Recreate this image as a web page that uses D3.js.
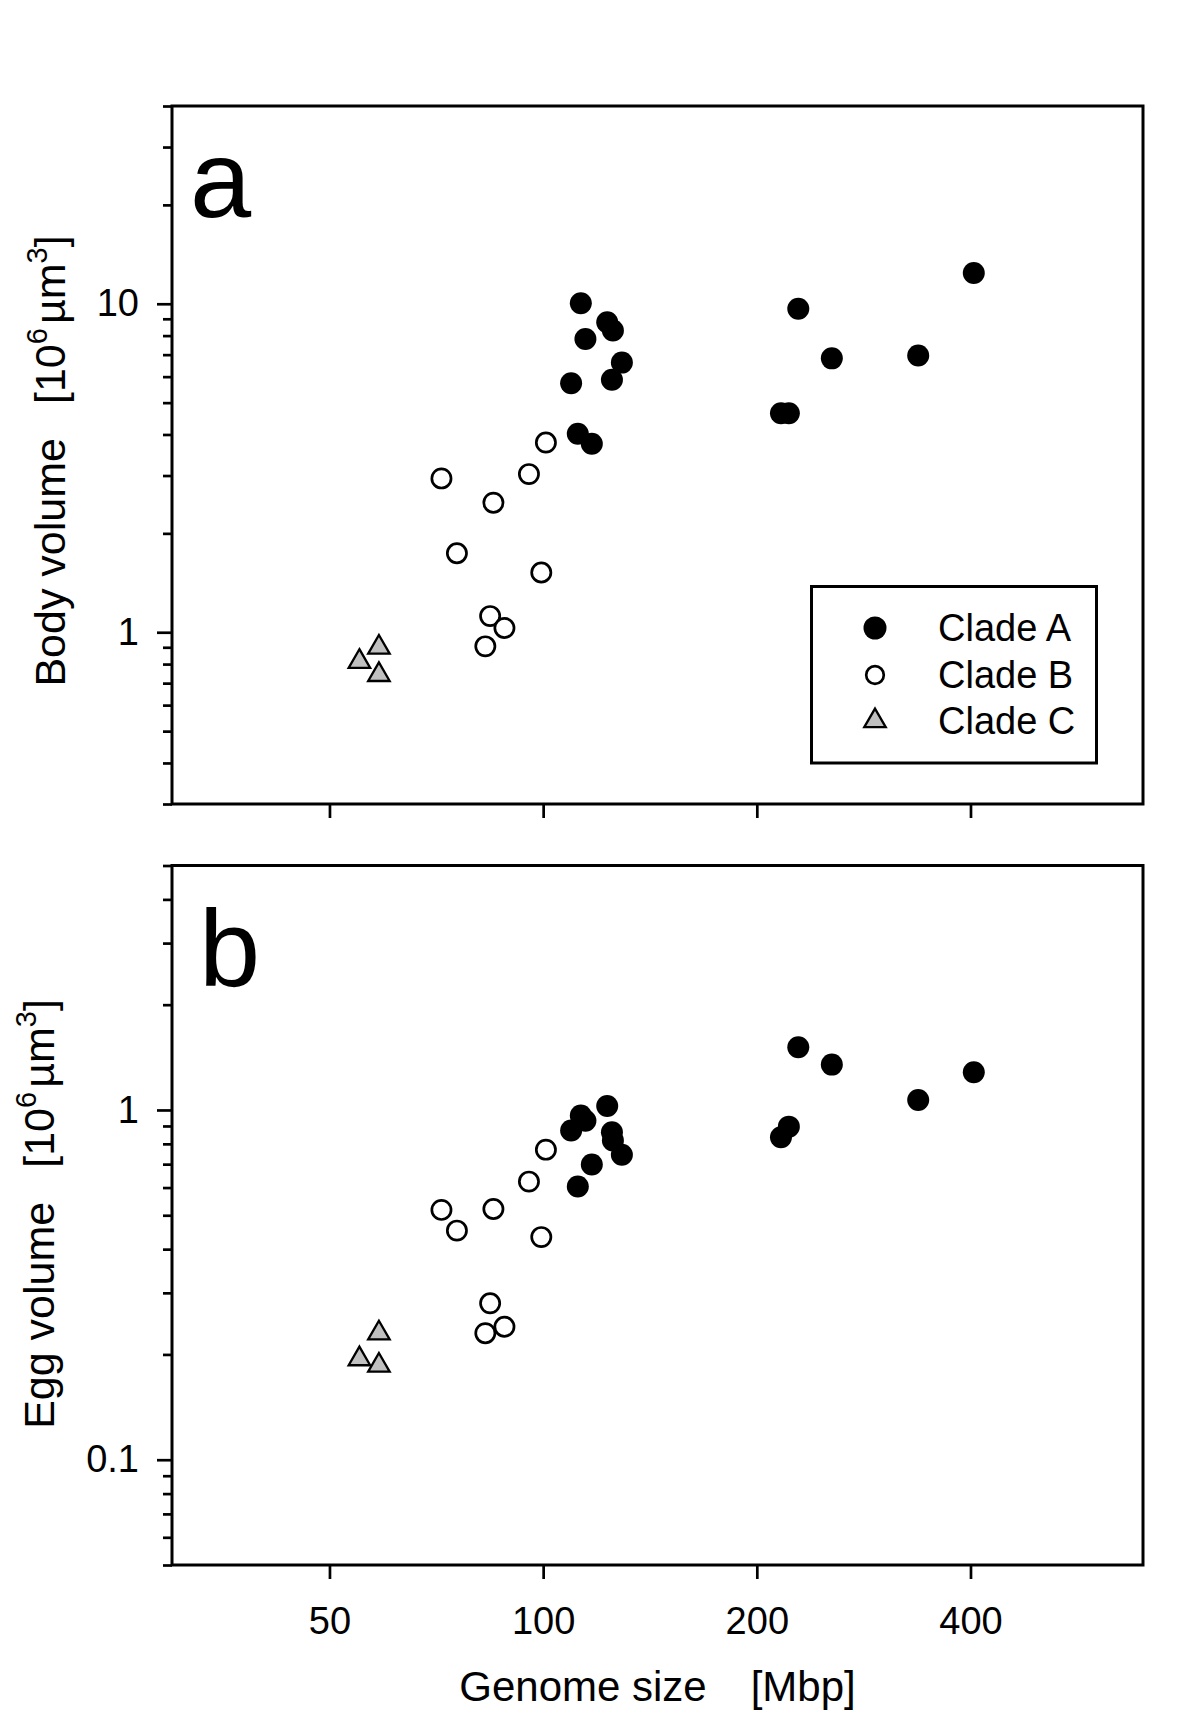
<!DOCTYPE html>
<html>
<head>
<meta charset="utf-8">
<script src="https://cdn.jsdelivr.net/npm/d3@7"></script>
<style>
  body { margin: 0; background: #fff; }
  svg text { font-family: "Liberation Sans", Arial, sans-serif; fill: #000; }
</style>
</head>
<body>
<div id="chart"></div>
<script>
// genome size [Mbp] per species, same order is used in both panels
const genomeA = [109.5, 111.9, 113.0, 114.7, 117.1, 123.1, 125.0, 125.4, 129.1, 216.3, 221.9, 228.8, 255.1, 337.6, 404.3];
const genomeB = [71.9, 75.6, 82.9, 84.2, 85.1, 88.2, 95.5, 99.4, 100.9];
const genomeC = [55.1, 58.7, 58.7];

// body volume [10^6 um^3]
const bodyA = [5.73, 4.02, 10.03, 7.81, 3.75, 8.79, 5.87, 8.29, 6.62, 4.64, 4.64, 9.66, 6.82, 6.96, 12.41];
const bodyB = [2.94, 1.74, 0.906, 1.12, 2.48, 1.03, 3.03, 1.52, 3.78];
const bodyC = [0.814, 0.899, 0.742];

// egg volume [10^6 um^3]
const eggA = [0.873, 0.604, 0.964, 0.932, 0.698, 1.027, 0.863, 0.818, 0.745, 0.836, 0.896, 1.511, 1.348, 1.068, 1.282];
const eggB = [0.518, 0.452, 0.230, 0.280, 0.521, 0.240, 0.624, 0.433, 0.770];
const eggC = [0.194, 0.230, 0.186];

const cladeNames = ["Clade A", "Clade B", "Clade C"];
const xTicks = [50, 100, 200, 400];
const xTickLabels = ["50", "100", "200", "400"];
const bodyTicks = [1, 10];
const bodyTickLabels = ["1", "10"];
const eggTicks = [0.1, 1];
const eggTickLabels = ["0.1", "1"];

const width = 1200, height = 1720;
const left = 172, right = 1143;
const lineW = 3;

const svg = d3.select("#chart").append("svg")
  .attr("width", width)
  .attr("height", height);

const x = d3.scaleLog().domain([30, 700]).range([left, right]);

const triangle = d3.symbol().type(d3.symbolTriangle).size(200);

function drawMarkers(g, clade, xs, ys, y) {
  const pts = xs.map((v, i) => ({ gx: v, vy: ys[i] }));
  if (clade === 2) {
    g.selectAll(null).data(pts).enter().append("path")
      .attr("d", triangle)
      .attr("transform", d => `translate(${x(d.gx)},${y(d.vy)})`)
      .attr("fill", "#c0c0c0")
      .attr("stroke", "#000")
      .attr("stroke-width", 2.3);
  } else {
    g.selectAll(null).data(pts).enter().append("circle")
      .attr("cx", d => x(d.gx))
      .attr("cy", d => y(d.vy))
      .attr("r", clade === 0 ? 11 : 9.6)
      .attr("fill", clade === 0 ? "#000" : "#fff")
      .attr("stroke", "#000")
      .attr("stroke-width", clade === 0 ? 0 : 2.7);
  }
}

function drawPanel(p) {
  const y = d3.scaleLog().domain(p.domain).range([p.bottom, p.top]);
  const g = svg.append("g");

  // minor y ticks (no labels)
  const minor = y.ticks().filter(t => !p.ticks.some(m => Math.abs(m - t) < 1e-9));
  g.append("g")
    .attr("transform", `translate(${left},0)`)
    .call(d3.axisLeft(y).tickValues(minor).tickSize(9).tickFormat(""))
    .call(a => a.select(".domain").remove())
    .selectAll("line").attr("stroke-width", 2.7);

  // major y ticks
  g.append("g")
    .attr("transform", `translate(${left},0)`)
    .call(d3.axisLeft(y).tickValues(p.ticks).tickSize(15).tickPadding(18)
      .tickFormat((d, i) => p.tickLabels[i]))
    .call(a => a.select(".domain").remove())
    .call(a => a.selectAll("line").attr("stroke-width", 2.7))
    .selectAll("text")
    .attr("font-size", 38)
    .attr("font-family", "Liberation Sans, Arial, sans-serif");

  // x ticks
  g.append("g")
    .attr("transform", `translate(0,${p.bottom})`)
    .call(d3.axisBottom(x).tickValues(xTicks).tickSize(14).tickPadding(28)
      .tickFormat((d, i) => p.xLabels ? xTickLabels[i] : ""))
    .call(a => a.select(".domain").remove())
    .call(a => a.selectAll("line").attr("stroke-width", 2.7))
    .selectAll("text")
    .attr("font-size", 38)
    .attr("font-family", "Liberation Sans, Arial, sans-serif");

  // frame
  g.append("rect")
    .attr("x", left).attr("y", p.top)
    .attr("width", right - left).attr("height", p.bottom - p.top)
    .attr("fill", "none")
    .attr("stroke", "#000")
    .attr("stroke-width", lineW);

  drawMarkers(g, 1, genomeB, p.values[1], y);
  drawMarkers(g, 0, genomeA, p.values[0], y);
  drawMarkers(g, 2, genomeC, p.values[2], y);

  // panel letter
  g.append("text")
    .attr("x", p.letterPos[0]).attr("y", p.letterPos[1])
    .attr("font-size", 110)
    .text(p.letter);

  // y title
  const t = g.append("text")
    .attr("transform", `translate(${p.titlePos[0]},${p.titlePos[1]}) rotate(-90)`)
    .attr("text-anchor", "middle")
    .attr("font-size", 43);
  t.append("tspan").text(p.title);
  t.append("tspan").attr("dx", 34).text("[10");
  t.append("tspan").attr("font-size", 29).attr("dy", -18).text("6");
  t.append("tspan").attr("dx", 4).attr("dy", 18).text("µm");
  t.append("tspan").attr("font-size", 29).attr("dy", -18).text("3");
  t.append("tspan").attr("dy", 18).text("]");

  return y;
}

drawPanel({
  domain: [0.3, 40], top: 106, bottom: 804,
  ticks: bodyTicks, tickLabels: bodyTickLabels, xLabels: false,
  values: [bodyA, bodyB, bodyC],
  letter: "a", letterPos: [190, 217],
  title: "Body volume", titlePos: [65, 461]
});

drawPanel({
  domain: [0.05, 5], top: 865.5, bottom: 1565,
  ticks: eggTicks, tickLabels: eggTickLabels, xLabels: true,
  values: [eggA, eggB, eggC],
  letter: "b", letterPos: [199, 986],
  title: "Egg volume", titlePos: [54, 1214]
});

// x title
const xt = svg.append("text")
  .attr("x", (left + right) / 2)
  .attr("y", 1701)
  .attr("text-anchor", "middle")
  .attr("font-size", 42);
xt.append("tspan").text("Genome size");
xt.append("tspan").attr("dx", 44).text("[Mbp]");

// legend
const legend = svg.append("g");
legend.append("rect")
  .attr("x", 811.5).attr("y", 586.5)
  .attr("width", 285).attr("height", 176.5)
  .attr("fill", "#fff")
  .attr("stroke", "#000")
  .attr("stroke-width", lineW);

const rowY = [628, 675, 721];
legend.append("circle").attr("cx", 875).attr("cy", rowY[0]).attr("r", 11.5).attr("fill", "#000");
legend.append("circle").attr("cx", 875).attr("cy", rowY[1]).attr("r", 8.8)
  .attr("fill", "#fff").attr("stroke", "#000").attr("stroke-width", 2.7);
legend.append("path").attr("d", triangle)
  .attr("transform", `translate(875,${rowY[2]})`)
  .attr("fill", "#c0c0c0").attr("stroke", "#000").attr("stroke-width", 2.3);

legend.selectAll(null).data(cladeNames).enter().append("text")
  .attr("x", 938)
  .attr("y", (d, i) => rowY[i] + 13)
  .attr("font-size", 38)
  .text(d => d);
</script>
</body>
</html>
